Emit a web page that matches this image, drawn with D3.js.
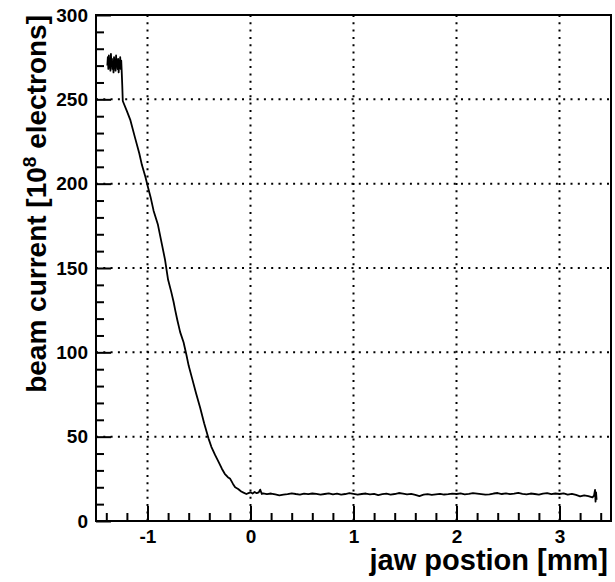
<!DOCTYPE html>
<html>
<head>
<meta charset="utf-8">
<script src="https://cdn.jsdelivr.net/npm/d3@7"></script>
<style>
  body { margin: 0; background: #fff; }
  text { font-family: "Liberation Sans", Arial, Helvetica, sans-serif; font-weight: bold; fill: #000; }
</style>
</head>
<body>
<div id="chart"></div>
<script>
// jaw position [mm]
const jawPos = [
  -1.390, -1.385, -1.380, -1.375, -1.370, -1.365, -1.360, -1.355, -1.350, -1.345,
  -1.340, -1.335, -1.330, -1.325, -1.320, -1.315, -1.310, -1.305, -1.300, -1.295,
  -1.290, -1.285, -1.280, -1.275, -1.270, -1.265, -1.260, -1.255, -1.250, -1.245,
  -1.240, -1.200, -1.168, -1.120, -1.080, -1.054, -1.020, -0.996, -0.970, -0.941,
  -0.900, -0.860, -0.830, -0.800, -0.770, -0.747, -0.731, -0.710, -0.683, -0.650,
  -0.624, -0.600, -0.569, -0.530, -0.488, -0.450, -0.408, -0.380, -0.343, -0.310,
  -0.278, -0.250, -0.220, -0.197, -0.170, -0.149, -0.120, -0.090, -0.068, -0.040,
  -0.020, 0.000, 0.020, 0.040, 0.060, 0.080, 0.094, 0.110,
  0.12, 0.16, 0.20, 0.24, 0.28, 0.32, 0.36, 0.40, 0.44, 0.48,
  0.52, 0.56, 0.60, 0.64, 0.68, 0.72, 0.76, 0.80, 0.84, 0.88,
  0.92, 0.96, 1.00, 1.04, 1.08, 1.12, 1.16, 1.20, 1.24, 1.28,
  1.32, 1.36, 1.40, 1.44, 1.48, 1.52, 1.56, 1.60, 1.64, 1.68,
  1.72, 1.76, 1.80, 1.84, 1.88, 1.92, 1.96, 2.00, 2.04, 2.08,
  2.12, 2.16, 2.20, 2.24, 2.28, 2.32, 2.36, 2.40, 2.44, 2.48,
  2.52, 2.56, 2.60, 2.64, 2.68, 2.72, 2.76, 2.80, 2.84, 2.88,
  2.92, 2.96, 3.00, 3.04, 3.08, 3.12, 3.16, 3.20, 3.24, 3.28,
  3.32, 3.335, 3.345, 3.350, 3.355, 3.360
];

// beam current [10^8 electrons]
const beamCurrent = [
  270, 275, 268, 276, 269, 273, 267, 277, 270, 274,
  268, 272, 266, 275, 269, 273, 267, 276, 270, 272,
  268, 274, 266, 271, 269, 275, 268, 273, 266, 258,
  249, 243, 238, 227, 218, 211, 204, 198, 192, 184,
  176, 164, 155, 143, 136, 130, 125, 119, 112, 106,
  99, 92, 85, 76, 67, 58, 49, 44, 39, 35,
  31, 28, 26, 25, 22, 20, 19, 17.5, 16.8, 16,
  16.5, 17, 16.3, 17.2, 16.5, 17, 18.6, 16,
  16.4, 15.9, 16.3, 15.8, 15.2, 15.6, 15.9, 16.4, 16.0, 15.7,
  16.2, 15.9, 16.3, 16.1, 15.6, 16.0, 16.4, 15.8, 16.2, 15.7,
  16.0, 16.5, 16.1, 15.6, 16.0, 16.3, 15.8, 16.1, 15.4, 15.9,
  16.2, 15.7, 16.0, 16.6, 16.2, 15.8, 16.1, 15.5, 14.8, 15.6,
  15.9, 15.5, 15.8, 16.1, 15.7, 15.9, 16.2, 16.0, 16.4, 15.8,
  16.1, 16.5, 16.2, 15.9, 15.6, 15.8, 16.3, 16.6, 16.0, 16.4,
  15.9, 16.2, 16.7, 16.1, 15.8, 16.3, 16.0, 15.6, 16.2, 16.5,
  15.9, 16.3, 16.0, 16.4, 15.7, 16.1, 15.5, 14.6, 15.2, 14.8,
  14.0, 15.0, 18.5, 11.5, 17.0, 12.5
];

const xMajor = [-1, 0, 1, 2, 3];
const xMinor = [-1.4, -1.2, -0.8, -0.6, -0.4, -0.2, 0.2, 0.4, 0.6, 0.8, 1.2, 1.4, 1.6, 1.8,
                2.2, 2.4, 2.6, 2.8, 3.2, 3.4];
const yMajor = [0, 50, 100, 150, 200, 250, 300];
const yMinor = [10, 20, 30, 40, 60, 70, 80, 90, 110, 120, 130, 140, 160, 170, 180, 190,
                210, 220, 230, 240, 260, 270, 280, 290];

const W = 615, H = 582;
const margin = {top: 15, right: 4, bottom: 61, left: 96};
const width = W - margin.left - margin.right;
const height = H - margin.top - margin.bottom;

const svg = d3.select("#chart").append("svg")
    .attr("width", W)
    .attr("height", H);

const g = svg.append("g")
    .attr("transform", `translate(${margin.left},${margin.top})`);

const x = d3.scaleLinear().domain([-1.5, 3.5]).range([0, width]);
const y = d3.scaleLinear().domain([0, 300]).range([height, 0]);

// dotted grid
g.append("g").attr("class", "grid-x")
  .selectAll("line").data(xMajor).join("line")
    .attr("x1", d => x(d)).attr("x2", d => x(d))
    .attr("y1", 0).attr("y2", height)
    .attr("stroke", "#000").attr("stroke-width", 2)
    .attr("stroke-dasharray", "2,5.3");
g.append("g").attr("class", "grid-y")
  .selectAll("line").data(yMajor.slice(1, -1)).join("line")
    .attr("x1", 0).attr("x2", width)
    .attr("y1", d => y(d)).attr("y2", d => y(d))
    .attr("stroke", "#000").attr("stroke-width", 2)
    .attr("stroke-dasharray", "2,5.3");

// data line
const line = d3.line()
    .x((d, i) => x(jawPos[i]))
    .y(d => y(d));
g.append("path")
    .datum(beamCurrent)
    .attr("d", line)
    .attr("fill", "none")
    .attr("stroke", "#000")
    .attr("stroke-width", 1.8)
    .attr("stroke-linejoin", "round");

// axes with inward ticks (ROOT style)
const fmt = d => d < 0 ? "-" + Math.abs(d) : String(d);

function styleAxis(a) {
  a.select(".domain").remove();
  a.selectAll(".tick line").attr("stroke", "#000").attr("stroke-width", 2);
  a.selectAll("text").style("font-size", "19px");
}

g.append("g").attr("transform", `translate(0,${height})`)
    .call(d3.axisBottom(x).tickValues(xMinor).tickSize(-8).tickFormat(""))
    .call(styleAxis);
g.append("g").attr("transform", `translate(0,${height})`)
    .call(d3.axisBottom(x).tickValues(xMajor).tickSize(-15).tickPadding(9).tickFormat(fmt))
    .call(styleAxis);

g.append("g")
    .call(d3.axisLeft(y).tickValues(yMinor).tickSize(-8).tickFormat(""))
    .call(styleAxis);
g.append("g")
    .call(d3.axisLeft(y).tickValues(yMajor).tickSize(-15).tickPadding(8).tickFormat(fmt))
    .call(styleAxis);

// frame
g.append("rect")
    .attr("width", width).attr("height", height)
    .attr("fill", "none").attr("stroke", "#000").attr("stroke-width", 2);

// axis titles
svg.append("text")
    .attr("x", 608).attr("y", 570)
    .attr("text-anchor", "end")
    .style("font-size", "29px")
    .text("jaw postion [mm]");

const yt = svg.append("text")
    .attr("transform", "translate(46,15) rotate(-90)")
    .attr("text-anchor", "end")
    .style("font-size", "28px");
yt.append("tspan").text("beam current [10");
yt.append("tspan").attr("dy", -10).style("font-size", "19px").text("8");
yt.append("tspan").attr("dy", 10).text(" electrons]");
</script>
</body>
</html>
